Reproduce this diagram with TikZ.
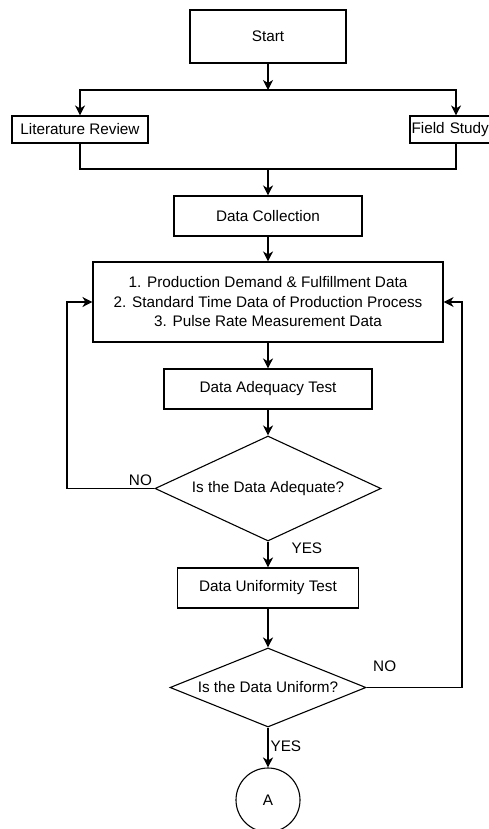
\documentclass[tikz,border=0pt]{standalone}
\usepackage{fontspec}
\setmainfont{Liberation Sans}
\usetikzlibrary{arrows.meta,positioning,shapes.geometric}

\begin{document}
\begin{tikzpicture}[x=1pt,y=-1pt,line width=1.1pt,
    font=\fontsize{15.3}{19.5}\selectfont,
    box/.style={draw,rectangle,inner sep=0pt,align=center},
    decision/.style={draw,diamond,inner sep=0pt,shape aspect=2.2},
    tag/.style={inner sep=2pt},
    link/.style={-{Stealth[length=10pt,width=10pt,inset=3pt]}}]
    \useasboundingbox (0,0) rectangle (488,829);

    \node[box,minimum width=156pt,minimum height=53pt] (start) at (268,36.5) {Start};
    \coordinate (j1) at (268,90);
    \node[box,minimum width=136pt,minimum height=27pt] (lit) at (80,129.5) {Literature Review};
    \node[box,text width=89pt,inner xsep=1.5pt,align=left,minimum height=27pt] (field) at (456,129.5) {Field Study};
    \coordinate (j2) at (268,169);
    \node[box,minimum width=188pt,minimum height=40pt] (collect) at (268,216) {Data Collection};
    \node[box,minimum width=350pt,minimum height=80pt] (data) at (268,302)
        {1. Production Demand \& Fulfillment Data\\2. Standard Time Data of Production Process\\3. Pulse Rate Measurement Data};
    \node[box,minimum width=208pt,minimum height=40pt] (adequacy) at (268,389) {Data Adequacy Test};
    \node[decision,minimum width=226pt,minimum height=105pt] (check1) at (268,488.5) {Is the Data Adequate?};
    \node[box,minimum width=181pt,minimum height=40pt] (uniform) at (268,588) {Data Uniformity Test};
    \node[decision,minimum width=196pt,minimum height=79pt] (check2) at (268,687.5) {Is the Data Uniform?};
    \node[draw,circle,minimum size=64pt,inner sep=0pt] (conn) at (268,800) {A};
    \coordinate (l1) at (67,488.5);
    \coordinate (r1) at (462,687.5);

    \draw[link] (start) -- (j1);
    \draw[link] (j1) -| (lit);
    \draw[link] (j1) -| (field);
    \draw (lit) |- (j2) -| (field);
    \draw[link] (j2) -- (collect);
    \draw[link] (collect) -- (data);
    \draw[link] (data) -- (adequacy);
    \draw[link] (adequacy) -- (check1);
    \draw[link] (check1) -- node[tag,pos=0.25,right,xshift=21pt] {YES} (uniform);
    \draw[link] (uniform) -- (check2);
    \draw[link] (check2) -- node[tag,pos=0.475,right] {YES} (conn);
    \draw[link] (check1.west) -- node[tag,pos=0.16,above] {NO} (l1) |- (data);
    \draw[link] (check2.east) -- node[tag,pos=0.19,above,yshift=13pt] {NO} (r1) |- (data);
\end{tikzpicture}
\end{document}
